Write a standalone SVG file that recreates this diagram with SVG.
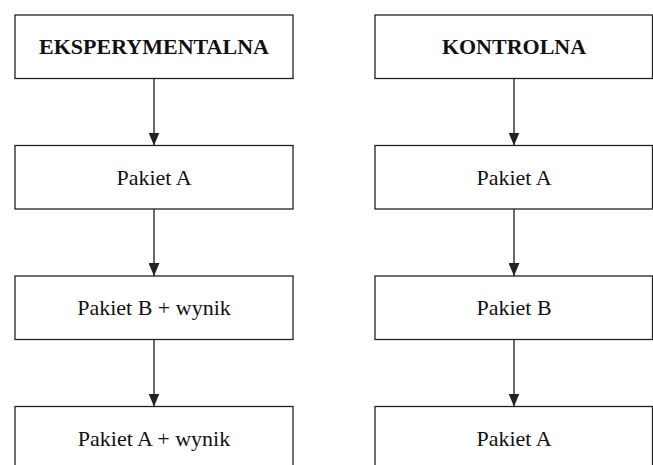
<svg xmlns="http://www.w3.org/2000/svg" width="653" height="465" viewBox="0 0 653 465">
<style>
.box{fill:#fff;stroke:#222;stroke-width:1.3}
.t{font-family:"Liberation Serif","Times New Roman",serif;font-size:22px;fill:#111;text-anchor:middle}
.b{font-weight:bold}
.c{stroke:#444;stroke-width:1.6;fill:none}
</style>
<defs>
<marker id="ah" markerUnits="userSpaceOnUse" markerWidth="13" markerHeight="11" refX="13" refY="5.5" orient="auto" viewBox="0 0 13 11">
<path d="M0,0 L13,5.5 L0,11 Z" fill="#222"/>
</marker>
</defs>
<rect width="653" height="465" fill="#fff"/>
<g id="connectors">
<line class="c" x1="154" y1="78.5" x2="154" y2="145.5" marker-end="url(#ah)"/>
<line class="c" x1="154" y1="209" x2="154" y2="276" marker-end="url(#ah)"/>
<line class="c" x1="154" y1="339.5" x2="154" y2="406.5" marker-end="url(#ah)"/>
<line class="c" x1="514" y1="78.5" x2="514" y2="145.5" marker-end="url(#ah)"/>
<line class="c" x1="514" y1="209" x2="514" y2="276" marker-end="url(#ah)"/>
<line class="c" x1="514" y1="339.5" x2="514" y2="406.5" marker-end="url(#ah)"/>
</g>
<g id="eksp"><rect class="box" x="15" y="15" width="278" height="63.5"/><text class="t b" x="154" y="54">EKSPERYMENTALNA</text></g>
<g id="e1"><rect class="box" x="15" y="145.5" width="278" height="63.5"/><text class="t" x="154" y="185">Pakiet A</text></g>
<g id="e2"><rect class="box" x="15" y="276" width="278" height="63.5"/><text class="t" x="154" y="315">Pakiet B + wynik</text></g>
<g id="e3"><rect class="box" x="15" y="406.5" width="278" height="63.5"/><text class="t" x="154" y="446">Pakiet A + wynik</text></g>
<g id="kontr"><rect class="box" x="375" y="15" width="277.5" height="63.5"/><text class="t b" x="514" y="54">KONTROLNA</text></g>
<g id="k1"><rect class="box" x="375" y="145.5" width="277.5" height="63.5"/><text class="t" x="514" y="185">Pakiet A</text></g>
<g id="k2"><rect class="box" x="375" y="276" width="277.5" height="63.5"/><text class="t" x="514" y="315">Pakiet B</text></g>
<g id="k3"><rect class="box" x="375" y="406.5" width="277.5" height="63.5"/><text class="t" x="514" y="446">Pakiet A</text></g>
</svg>
